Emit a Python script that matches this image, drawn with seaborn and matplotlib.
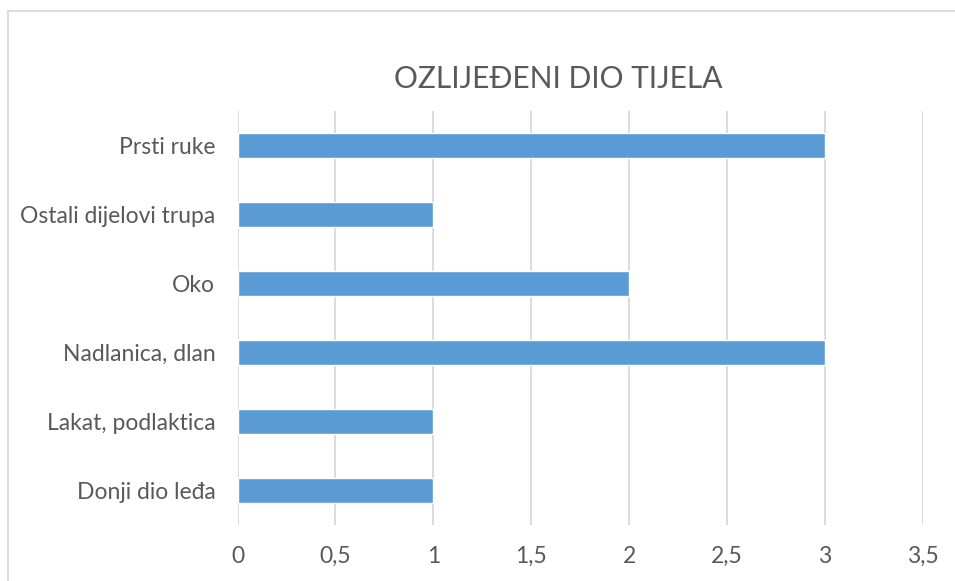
import pandas as pd
import matplotlib.pyplot as plt
import seaborn as sns
from matplotlib.patches import Rectangle

# --- data ---
dijelovi = ['Prsti ruke', 'Ostali dijelovi trupa', 'Oko', 'Nadlanica, dlan',
            'Lakat, podlaktica', 'Donji dio leđa']
broj = [3, 1, 2, 3, 1, 1]
x_ticks = [0, 0.5, 1, 1.5, 2, 2.5, 3, 3.5]
x_labels = ['0', '0,5', '1', '1,5', '2', '2,5', '3', '3,5']

df = pd.DataFrame({'Dio': dijelovi, 'Broj': broj})

sns.set_style('white')
plt.rcParams['font.family'] = ['Lato', 'DejaVu Sans']
tekst = '#595959'

fig = plt.figure(figsize=(9.55, 5.81), dpi=100)
ax = fig.add_axes([0.2487, 0.0964, 0.7178, 0.7126])

sns.barplot(data=df, x='Broj', y='Dio', orient='h', color='#5B9BD5',
            saturation=1, width=0.36, ax=ax, zorder=3)

ax.set_xlim(0, 3.5)
ax.set_xticks(x_ticks)
ax.set_xticklabels(x_labels, fontsize=16.5, color=tekst)
ax.tick_params(axis='y', labelsize=16.5, labelcolor=tekst, length=0, pad=16)
ax.tick_params(axis='x', length=0, pad=15)
ax.set_xlabel('')
ax.set_ylabel('')
ax.grid(axis='x', color='#D9D9D9', linewidth=1.3, zorder=0)
ax.set_axisbelow(True)
for s in ax.spines.values():
    s.set_visible(False)

# naslov
fig.text(0.585, 1 - 79 / 581, 'OZLIJEĐENI DIO TIJELA', ha='center', va='center',
         fontsize=21.5, color=tekst)

# okvir grafikona
fig.patches.append(Rectangle((8 / 955, -0.1), 1.2, 1 - 11 / 581 + 0.1,
                             transform=fig.transFigure, fill=False,
                             edgecolor='#D9D9D9', linewidth=1.3))

plt.savefig('out.png', dpi=100)
